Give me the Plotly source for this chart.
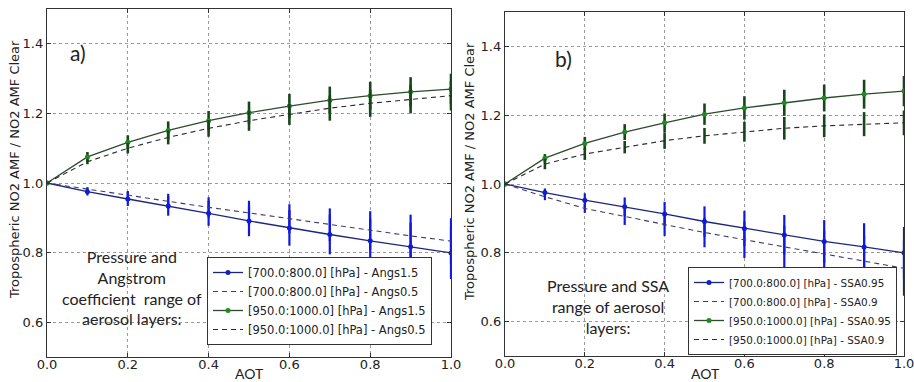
import plotly.graph_objects as go

AOT = [0.0, 0.1, 0.2, 0.3, 0.4, 0.5, 0.6, 0.7, 0.8, 0.9, 1.0]

# Panel a) (Angstrom)
a_blue_solid = [1.0, 0.975, 0.954, 0.934, 0.913, 0.891, 0.871, 0.852, 0.834, 0.817, 0.799]
a_blue_solid_err = [0.0, 0.011, 0.020, 0.028, 0.036, 0.044, 0.051, 0.057, 0.064, 0.069, 0.075]
a_blue_dash = [1.0, 0.982, 0.964, 0.947, 0.930, 0.914, 0.897, 0.880, 0.864, 0.848, 0.833]
a_blue_dash_err = [0.0, 0.006, 0.013, 0.022, 0.029, 0.035, 0.042, 0.047, 0.055, 0.061, 0.066]
a_green_solid = [1.0, 1.075, 1.117, 1.151, 1.179, 1.202, 1.221, 1.238, 1.251, 1.262, 1.270]
a_green_solid_err = [0.0, 0.014, 0.020, 0.026, 0.028, 0.032, 0.035, 0.039, 0.040, 0.042, 0.044]
a_green_dash = [1.0, 1.061, 1.100, 1.131, 1.157, 1.179, 1.197, 1.215, 1.229, 1.241, 1.251]
a_green_dash_err = [0.0, 0.007, 0.015, 0.020, 0.024, 0.029, 0.030, 0.036, 0.039, 0.041, 0.043]

# Panel b) (SSA)
b_blue_solid = [1.0, 0.975, 0.953, 0.934, 0.913, 0.891, 0.871, 0.852, 0.833, 0.817, 0.800]
b_blue_solid_err = [0.0, 0.012, 0.020, 0.027, 0.035, 0.044, 0.051, 0.058, 0.062, 0.069, 0.075]
b_blue_dash = [1.0, 0.963, 0.929, 0.905, 0.883, 0.859, 0.838, 0.817, 0.796, 0.775, 0.755]
b_blue_dash_err = [0.0, 0.010, 0.013, 0.024, 0.034, 0.043, 0.053, 0.062, 0.068, 0.075, 0.080]
b_green_solid = [1.0, 1.075, 1.118, 1.151, 1.178, 1.203, 1.221, 1.236, 1.250, 1.261, 1.270]
b_green_solid_err = [0.0, 0.012, 0.019, 0.023, 0.027, 0.031, 0.034, 0.038, 0.039, 0.042, 0.044]
b_green_dash = [1.0, 1.058, 1.087, 1.107, 1.126, 1.140, 1.152, 1.162, 1.169, 1.174, 1.178]
b_green_dash_err = [0.0, 0.015, 0.017, 0.018, 0.024, 0.023, 0.029, 0.033, 0.033, 0.035, 0.036]

names_a = ["[700.0:800.0] [hPa] - Angs1.5", "[700.0:800.0] [hPa] - Angs0.5",
           "[950.0:1000.0] [hPa] - Angs1.5", "[950.0:1000.0] [hPa] - Angs0.5"]
names_b = ["[700.0:800.0] [hPa] - SSA0.95", "[700.0:800.0] [hPa] - SSA0.9",
           "[950.0:1000.0] [hPa] - SSA0.95", "[950.0:1000.0] [hPa] - SSA0.9"]

W, H = 914, 382
BLUE_LINE = "#1c2680"
BLUE_MK = "#1020c8"
BLUE_ERR = "#1018e0"
BLUE_DASH = "#3c3c72"
GREEN_LINE = "#2e4a2e"
GREEN_MK = "#1f8a1f"
GREEN_ERR = "#17461a"
GREEN_DASH = "#2a2a2a"

fig = go.Figure()

def add_panel(xa, ya, leg, names, bs, bse, bd, bde, gs, gse, gd, gde):
    fig.add_trace(go.Scatter(x=AOT, y=bs, name=names[0], mode="lines+markers",
                             line=dict(color=BLUE_LINE, width=1.3),
                             marker=dict(color=BLUE_MK, size=5),
                             error_y=dict(type="data", array=bse, color=BLUE_ERR, thickness=2.2, width=0),
                             xaxis=xa, yaxis=ya, legend=leg))
    fig.add_trace(go.Scatter(x=AOT, y=bd, name=names[1], mode="lines",
                             line=dict(color=BLUE_DASH, width=1.1, dash="5px,4px"),
                             error_y=dict(type="data", array=bde, color=BLUE_ERR, thickness=2.2, width=0),
                             xaxis=xa, yaxis=ya, legend=leg))
    fig.add_trace(go.Scatter(x=AOT, y=gs, name=names[2], mode="lines+markers",
                             line=dict(color=GREEN_LINE, width=1.3),
                             marker=dict(color=GREEN_MK, size=5),
                             error_y=dict(type="data", array=gse, color=GREEN_ERR, thickness=2.6, width=0),
                             xaxis=xa, yaxis=ya, legend=leg))
    fig.add_trace(go.Scatter(x=AOT, y=gd, name=names[3], mode="lines",
                             line=dict(color=GREEN_DASH, width=1.1, dash="5px,4px"),
                             error_y=dict(type="data", array=gde, color=GREEN_ERR, thickness=2.6, width=0),
                             xaxis=xa, yaxis=ya, legend=leg))

add_panel("x", "y", "legend", names_a, a_blue_solid, a_blue_solid_err, a_blue_dash, a_blue_dash_err,
          a_green_solid, a_green_solid_err, a_green_dash, a_green_dash_err)
add_panel("x2", "y2", "legend2", names_b, b_blue_solid, b_blue_solid_err, b_blue_dash, b_blue_dash_err,
          b_green_solid, b_green_solid_err, b_green_dash, b_green_dash_err)

tickfont = dict(family="DejaVu Sans", size=13, color="#222")
xcommon = dict(range=[0, 1], tickvals=[0, 0.2, 0.4, 0.6, 0.8, 1.0], tickformat=".1f",
               showgrid=True, gridcolor="#9a9a9a", griddash="dot", gridwidth=1,
               showline=True, linecolor="#333", linewidth=1.4, mirror="ticks",
               ticks="inside", ticklen=4, tickcolor="#333", tickfont=tickfont,
               ticklabelstandoff=-5, ticklabeloverflow="allow",
               zeroline=False, automargin=False)
ycommon = dict(range=[0.5, 1.5], tickvals=[0.6, 0.8, 1.0, 1.2, 1.4], tickformat=".1f",
               showgrid=True, gridcolor="#9a9a9a", griddash="dot", gridwidth=1,
               showline=True, linecolor="#333", linewidth=1.4, mirror="ticks",
               ticks="inside", ticklen=4, tickcolor="#333", tickfont=tickfont,
               ticklabeloverflow="allow",
               zeroline=False, automargin=False)

fig.update_layout(
    width=W, height=H, margin=dict(l=0, r=0, t=0, b=0),
    paper_bgcolor="white", plot_bgcolor="white",
    xaxis=dict(domain=[47 / W, 451 / W], anchor="y", **xcommon),
    yaxis=dict(domain=[1 - 357 / H, 1 - 9 / H], anchor="x", **ycommon),
    xaxis2=dict(domain=[505 / W, 904 / W], anchor="y2", **xcommon),
    yaxis2=dict(domain=[1 - 356 / H, 1 - 12 / H], anchor="x2", **ycommon),
    legend=dict(x=432 / W, y=1 - 301 / H, xanchor="right", yanchor="middle",
                bordercolor="#333", borderwidth=1, bgcolor="white",
                font=dict(family="DejaVu Sans", size=11.5, color="#222")),
    legend2=dict(x=897 / W, y=1 - 311 / H, xanchor="right", yanchor="middle",
                 bordercolor="#333", borderwidth=1, bgcolor="white",
                 font=dict(family="DejaVu Sans", size=10.4, color="#222")),
    showlegend=True,
)

def ann(x, y, text, font, angle=0):
    fig.add_annotation(x=x / W, y=1 - y / H, xref="paper", yref="paper", text=text,
                       textangle=angle, showarrow=False, xanchor="center", yanchor="middle",
                       align="center", font=font)

ytitle = "Tropospheric NO2 AMF / NO2 AMF Clear"
yfont = dict(family="DejaVu Sans", size=13, color="#222")
ann(14, 170, ytitle, yfont, -90)
ann(470, 172, ytitle, yfont, -90)
ann_font = dict(family="Lato", size=14, color="#222")
ann(249, 373, "AOT", ann_font)
ann(705, 373, "AOT", ann_font)
ann(78, 52, "a)", dict(family="Lato", size=21, color="#222"))
ann(563, 58, "b)", dict(family="Lato", size=21, color="#222"))
tfont = dict(family="Lato", size=16, color="#222")
ann(132, 287, "Pressure and<br>Angstrom<br>coefficient  range of<br>aerosol layers:", tfont)
ann(608, 306, "Pressure and SSA<br>range of aerosol<br>layers:", tfont)

fig.write_html("out.html")
